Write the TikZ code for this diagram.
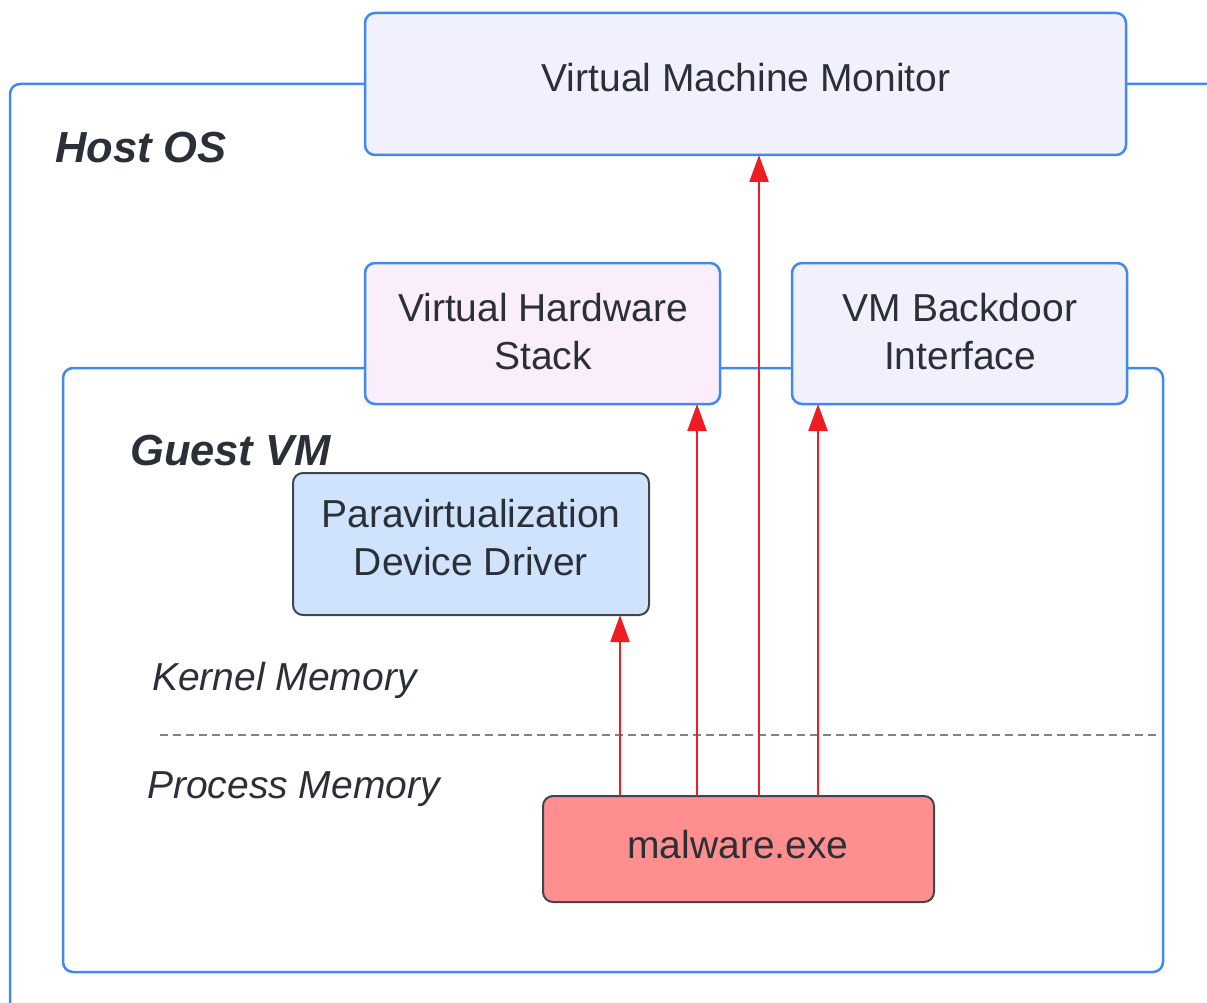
\documentclass[tikz,border=0pt]{standalone}
\usepackage{fontspec}
\setmainfont{Liberation Sans}
\usetikzlibrary{arrows.meta}

\definecolor{frameblue}{HTML}{4189EC}
\definecolor{inkgray}{HTML}{2B3038}
\definecolor{vmmfill}{HTML}{F1F1FD}
\definecolor{vhsfill}{HTML}{FAEEFC}
\definecolor{pddfill}{HTML}{CFE3FD}
\definecolor{malfill}{HTML}{FF8E8E}
\definecolor{edgegray}{HTML}{3E4651}
\definecolor{arrowred}{HTML}{EE1D23}
\definecolor{dashgray}{HTML}{7E838B}

\begin{document}
\begin{tikzpicture}[x=1pt,y=-1pt,
  framebox/.style={draw=frameblue, line width=2.5pt, rounded corners=10pt,
    inner sep=0pt, outer sep=0pt, anchor=north west},
  bluebox/.style={framebox},
  darkbox/.style={draw=edgegray, line width=2pt, rounded corners=10pt,
    inner sep=0pt, outer sep=0pt, anchor=north west},
  boxtext/.style={text=inkgray, font=\fontsize{39}{48}\selectfont,
    align=center, inner sep=0pt},
  tag/.style={text=inkgray, font=\fontsize{39}{48}\selectfont\itshape,
    inner sep=0pt, anchor=base west},
  title/.style={text=inkgray, font=\fontsize{43.5}{52}\selectfont\bfseries\itshape,
    inner sep=0pt, anchor=base west},
  call/.style={draw=arrowred, line width=2.5pt,
    -{Triangle[length=27pt,width=19pt]}},
]
\useasboundingbox (0,0) rectangle (1207,1003);

% outer frames (host runs past the page edge)
\begin{scope}
  \clip (0,0) rectangle (1207,1003);
  \node[framebox, minimum width=1260pt, minimum height=980pt] (host) at (10,84) {};
\end{scope}
\node[framebox, minimum width=1100pt, minimum height=604pt] (guest) at (63,368) {};

% component boxes
\node[bluebox, fill=vmmfill, minimum width=761pt, minimum height=142pt] (vmm) at (365,13) {};
\node[bluebox, fill=vhsfill, minimum width=355pt, minimum height=141pt] (vhs) at (365,263) {};
\node[bluebox, fill=vmmfill, minimum width=335pt, minimum height=141pt] (vbi) at (792,263) {};
\node[darkbox, fill=pddfill, minimum width=356pt, minimum height=142pt] (pdd) at (293,473) {};
\node[darkbox, fill=malfill, minimum width=391pt, minimum height=106pt] (mal) at (543,796) {};

% box captions
\node[boxtext, anchor=base] (vmm-label) at (746,92) {Virtual Machine Monitor};
\node[boxtext] (vhs-label) at (543,332) {Virtual Hardware\\Stack};
\node[boxtext] (vbi-label) at (960,332) {VM Backdoor\\Interface};
\node[boxtext] (pdd-label) at (471,538) {Paravirtualization\\Device Driver};
\node[boxtext, anchor=base] (mal-label) at (738,858) {malware.exe};

% region titles
\node[title] (host-title) at (55,163) {Host OS};
\node[title] (guest-title) at (130,465) {Guest VM};

% kernel / process boundary
\coordinate (split-l) at (160,735);
\coordinate (split-r) at (1156,735);
\draw[dashgray, line width=2.3pt, dash pattern=on 8pt off 5pt] (split-l) -- (split-r);
\node[tag] (kernel-label) at (152,690) {Kernel Memory};
\node[tag] (process-label) at (147,798) {Process Memory};

% calls issued by the sample
\coordinate (c1) at ([xshift=-118.5pt]mal.north);
\coordinate (c2) at ([xshift=-41.5pt]mal.north);
\coordinate (c3) at ([xshift=20.5pt]mal.north);
\coordinate (c4) at ([xshift=79.5pt]mal.north);
\draw[call] (c1) -- (c1 |- pdd.south);
\draw[call] (c2) -- (c2 |- vhs.south);
\draw[call] (c3) -- (c3 |- vmm.south);
\draw[call] (c4) -- (c4 |- vbi.south);
\end{tikzpicture}
\end{document}
